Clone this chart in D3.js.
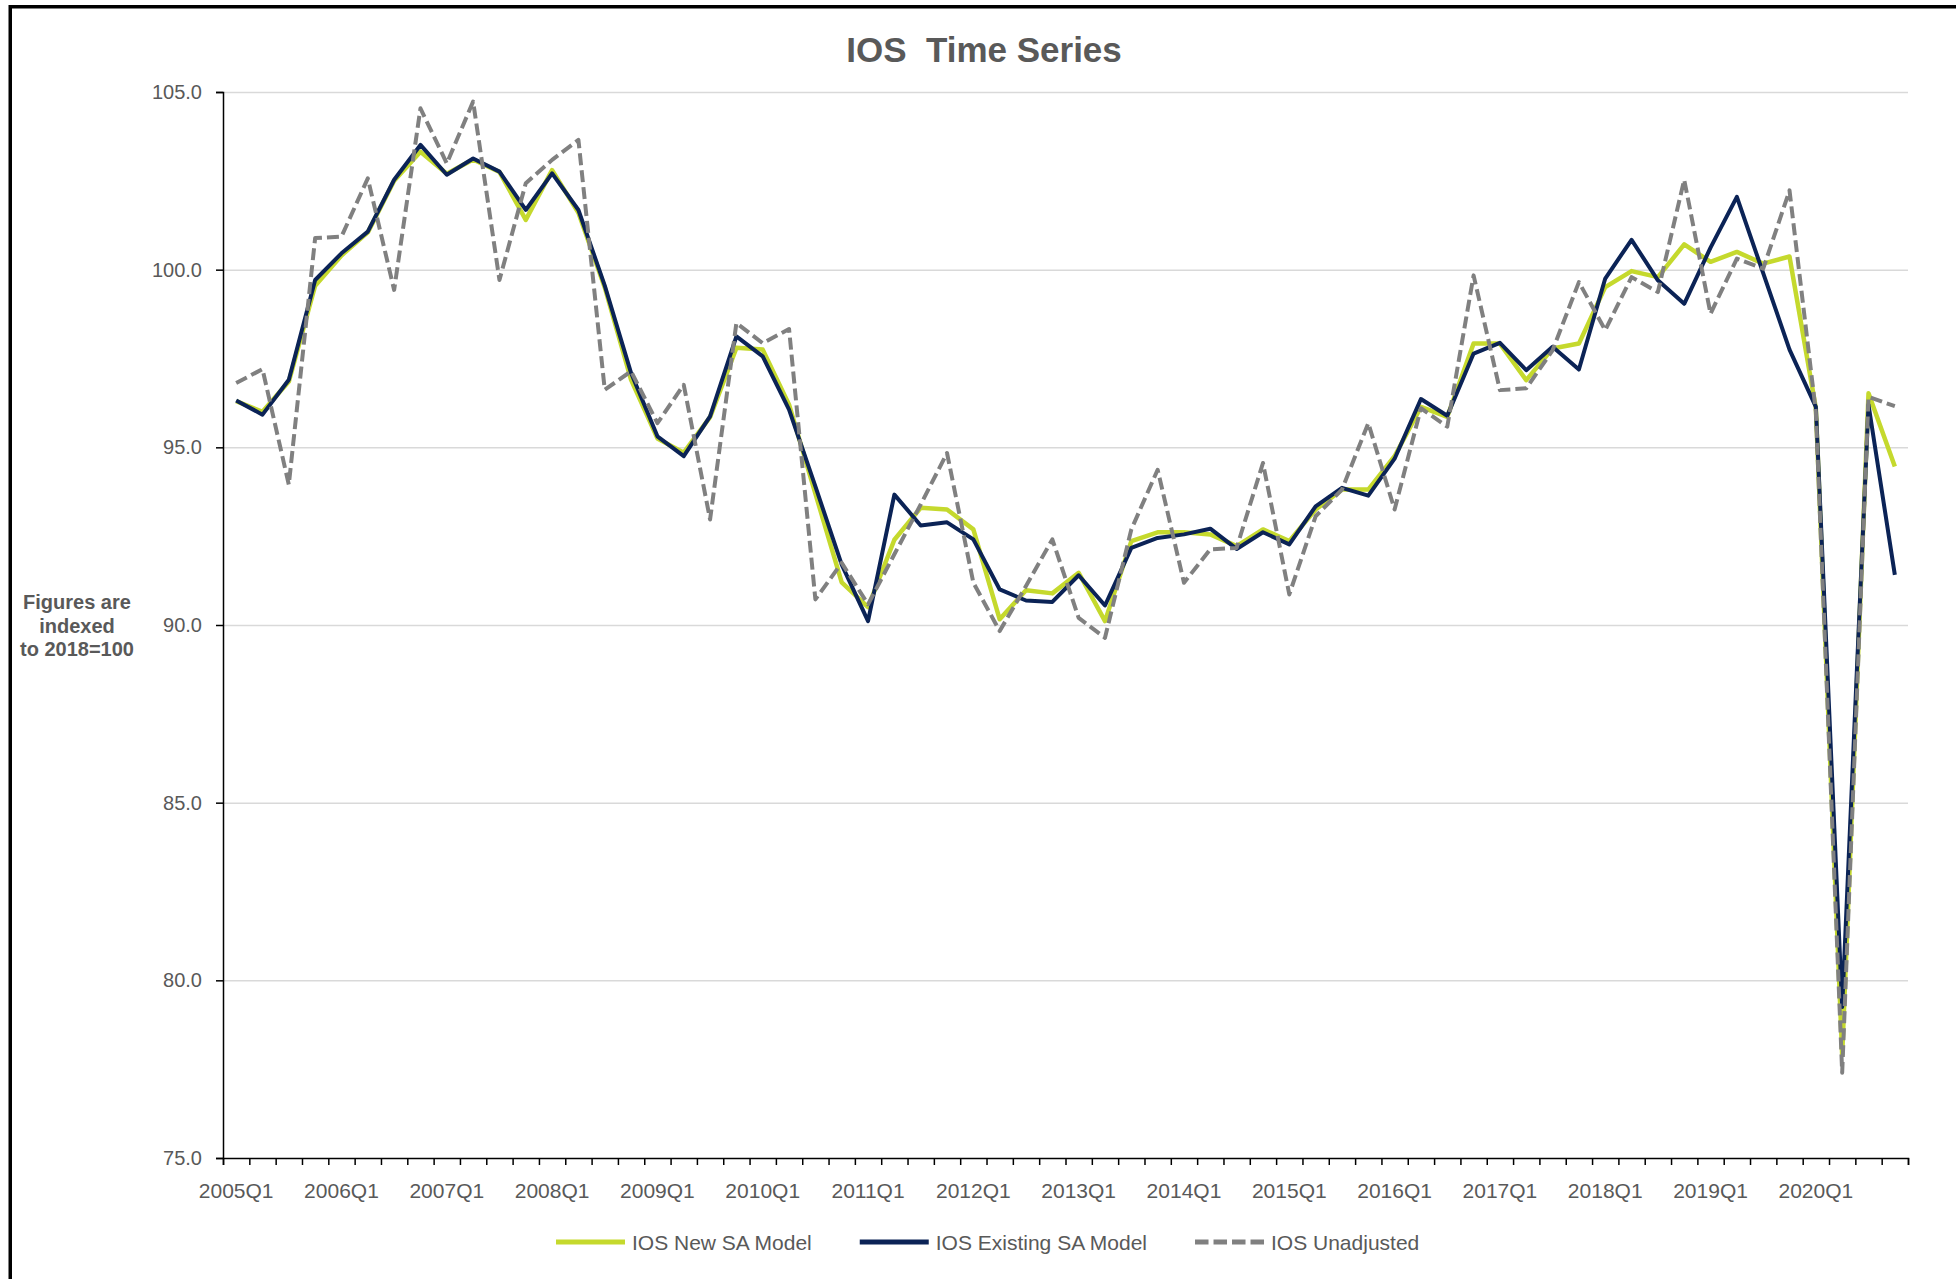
<!DOCTYPE html>
<html>
<head>
<meta charset="utf-8">
<script src="https://cdn.jsdelivr.net/npm/d3@7"></script>
<style>
  html, body { margin: 0; padding: 0; background: #ffffff; }
  svg { display: block; font-family: "Liberation Sans", Arial, sans-serif; }
</style>
</head>
<body>
<svg id="chart" width="1956" height="1279"></svg>
<script>
// Quarterly IOS index, 2005Q1 – 2020Q4 (2018 = 100)
const years = d3.range(2005, 2021);
const quarters = years.flatMap(yr => [1, 2, 3, 4].map(q => `${yr}Q${q}`));

const xTickLabels = ["2005Q1","2006Q1","2007Q1","2008Q1","2009Q1","2010Q1","2011Q1","2012Q1",
                     "2013Q1","2014Q1","2015Q1","2016Q1","2017Q1","2018Q1","2019Q1","2020Q1"];
const yTickValues = [75, 80, 85, 90, 95, 100, 105];

const seriesNames = ["IOS New SA Model", "IOS Existing SA Model", "IOS Unadjusted"];

const newSA = [
  96.30, 96.00, 96.85, 99.55, 100.40, 101.05, 102.50, 103.32,
  102.70, 103.10, 102.75, 101.40, 102.80, 101.60, 99.50, 96.90,
  95.25, 94.85, 95.85, 97.80, 97.75, 96.20, 93.70, 91.20,
  90.50, 92.40, 93.30, 93.25, 92.69, 90.16, 90.98, 90.89,
  91.47, 90.11, 92.36, 92.61, 92.61, 92.55, 92.22, 92.69,
  92.36, 93.25, 93.81, 93.81, 94.75, 96.14, 95.86, 97.92,
  97.92, 96.89, 97.78, 97.92, 99.51, 99.96, 99.79, 100.71,
  100.22, 100.50, 100.17, 100.37, 96.10, 77.90, 96.52, 94.46
];

const existingSA = [
  96.32, 95.92, 96.90, 99.71, 100.46, 101.07, 102.53, 103.51,
  102.67, 103.13, 102.76, 101.68, 102.71, 101.68, 99.55, 97.09,
  95.31, 94.75, 95.87, 98.12, 97.56, 96.06, 93.90, 91.70,
  90.11, 93.67, 92.80, 92.89, 92.41, 91.00, 90.69, 90.65,
  91.40, 90.55, 92.17, 92.45, 92.55, 92.71, 92.14, 92.61,
  92.27, 93.34, 93.86, 93.64, 94.68, 96.36, 95.89, 97.64,
  97.94, 97.17, 97.83, 97.19, 99.75, 100.84, 99.70, 99.04,
  100.62, 102.05, 99.90, 97.75, 96.14, 79.25, 96.20, 91.41
];

const unadjusted = [
  96.81, 97.20, 93.95, 100.89, 100.93, 102.57, 99.43, 104.54,
  102.99, 104.73, 99.71, 102.43, 103.09, 103.65, 96.62, 97.14,
  95.68, 96.76, 92.97, 98.50, 97.93, 98.33, 90.72, 91.75,
  90.58, 91.99, 93.39, 94.84, 91.19, 89.83, 91.10, 92.41,
  90.20, 89.64, 92.69, 94.37, 91.19, 92.13, 92.17, 94.56,
  90.86, 93.06, 93.81, 95.68, 93.25, 96.10, 95.58, 99.84,
  96.61, 96.66, 97.73, 99.65, 98.30, 99.79, 99.37, 102.53,
  98.76, 100.31, 100.03, 102.23, 96.00, 77.40, 96.42, 96.16
];

// ---- styling ----
const textGrey = "#595959";
const series = [
  { name: seriesNames[0], values: newSA,      color: "#c5d92d", width: 4.5, dash: null },
  { name: seriesNames[1], values: existingSA, color: "#0b2356", width: 4,   dash: null },
  { name: seriesNames[2], values: unadjusted, color: "#808080", width: 4,   dash: "12,5" }
];

const plot = { left: 223, right: 1908, top: 92, bottom: 1158 };

const svg = d3.select("#chart");
svg.append("rect").attr("width", 1956).attr("height", 1279).attr("fill", "#ffffff");

// outer frame
svg.append("rect")
  .attr("x", 10.25).attr("y", 6.75)
  .attr("width", 2100).attr("height", 2100)
  .attr("fill", "none").attr("stroke", "#000").attr("stroke-width", 3.5);

// ---- scales ----
const x = d3.scaleBand().domain(quarters).range([plot.left, plot.right]).padding(0);
const xEdge = d3.scaleLinear().domain([0, quarters.length]).range([plot.left, plot.right]);
const y = d3.scaleLinear().domain([75, 105]).range([plot.bottom, plot.top]);
const cx = q => x(q) + x.bandwidth() / 2;

// ---- gridlines ----
svg.append("g")
  .attr("transform", `translate(${plot.left},0)`)
  .call(d3.axisLeft(y).tickValues(yTickValues.slice(1)).tickSize(-(plot.right - plot.left)).tickFormat(""))
  .call(g => g.select(".domain").remove())
  .call(g => g.selectAll("line").attr("stroke", "#d9d9d9").attr("stroke-width", 1.5));

// ---- y axis ----
svg.append("g")
  .attr("transform", `translate(${plot.left},0)`)
  .call(d3.axisLeft(y).tickValues(yTickValues).tickSize(7).tickPadding(14).tickFormat(d3.format(".1f")))
  .call(g => g.select(".domain").attr("stroke", "#000").attr("stroke-width", 1.5))
  .call(g => g.selectAll(".tick line").attr("stroke", "#000").attr("stroke-width", 1.5))
  .call(g => g.selectAll("text").attr("fill", textGrey).style("font-size", "20px")
    .style("font-family", "'Liberation Sans', Arial, sans-serif"));

// ---- x axis: tick marks on category boundaries ----
svg.append("g")
  .attr("transform", `translate(0,${plot.bottom})`)
  .call(d3.axisBottom(xEdge).tickValues(d3.range(quarters.length + 1)).tickSize(7).tickFormat(""))
  .call(g => g.select(".domain").attr("stroke", "#000").attr("stroke-width", 1.5))
  .call(g => g.selectAll(".tick line").attr("stroke", "#000").attr("stroke-width", 1.5));

// x labels centred on the first quarter of each year
svg.append("g")
  .attr("transform", `translate(0,${plot.bottom})`)
  .call(d3.axisBottom(x).tickValues(xTickLabels).tickSize(0).tickPadding(25))
  .call(g => g.select(".domain").remove())
  .call(g => g.selectAll("text").attr("fill", textGrey).style("font-size", "21px")
    .style("font-family", "'Liberation Sans', Arial, sans-serif"));

// ---- series lines ----
const line = d3.line().x((d, i) => cx(quarters[i])).y(d => y(d));
svg.append("g").selectAll("path")
  .data(series)
  .join("path")
  .attr("d", d => line(d.values))
  .attr("fill", "none")
  .attr("stroke", d => d.color)
  .attr("stroke-width", d => d.width)
  .attr("stroke-linejoin", "round")
  .attr("stroke-dasharray", d => d.dash);

// ---- title ----
svg.append("text")
  .attr("x", 984).attr("y", 62)
  .attr("text-anchor", "middle")
  .attr("fill", textGrey)
  .style("font-size", "35px").style("font-weight", "bold")
  .style("white-space", "pre")
  .text("IOS  Time Series");

// ---- y-axis note ----
const note = svg.append("text")
  .attr("text-anchor", "middle")
  .attr("fill", textGrey)
  .style("font-size", "20px").style("font-weight", "bold");
["Figures are", "indexed", "to 2018=100"].forEach((t, i) => {
  note.append("tspan").attr("x", 77).attr("y", 609 + i * 23.5).text(t);
});

// ---- legend ----
const legend = svg.append("g").attr("transform", "translate(556,1242)");
let lx = 0;
series.forEach(s => {
  const item = legend.append("g").attr("transform", `translate(${lx},0)`);
  item.append("line")
    .attr("x1", 0).attr("x2", 69).attr("y1", 0).attr("y2", 0)
    .attr("stroke", s.color).attr("stroke-width", 5)
    .attr("stroke-dasharray", s.dash ? "13.5,5" : null);
  const t = item.append("text")
    .attr("x", 76).attr("y", 7.5)
    .attr("fill", textGrey)
    .style("font-size", "21px")
    .text(s.name);
  lx += 76 + t.node().getComputedTextLength() + 48;
});
</script>
</body>
</html>
